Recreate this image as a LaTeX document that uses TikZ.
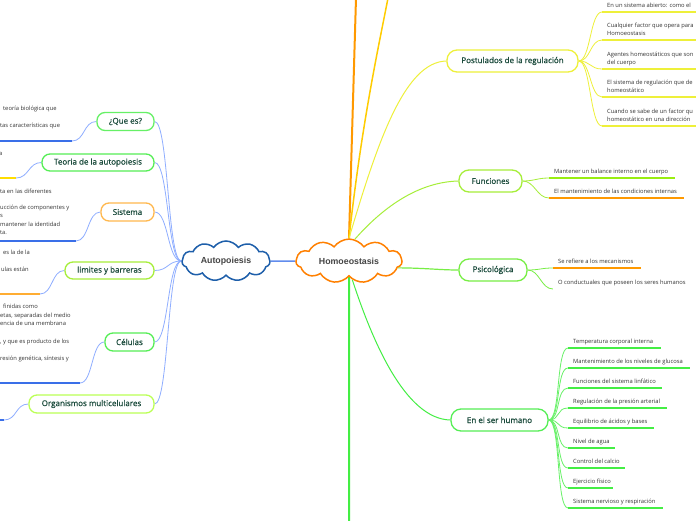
\documentclass[tikz,border=0pt]{standalone}
\usepackage{fontspec}
\setmainfont{Open Sans}
\newfontfamily\kf{Open Sans}
\newfontfamily\kfb[FakeBold=0.8]{Open Sans}
\newfontfamily\lib{Liberation Sans}
\usetikzlibrary{shapes.symbols}
\definecolor{autoblue}{HTML}{1E5FAA}
\definecolor{homoorange}{HTML}{FF8000}
\definecolor{linkblue}{HTML}{8FAEFF}
\definecolor{ulblue}{HTML}{3A6FE8}
\definecolor{nodetxt}{HTML}{1B4B3C}
\definecolor{kidtxt}{HTML}{333333}
\definecolor{cloudtxt}{HTML}{444444}
\definecolor{bgreen}{HTML}{66F066}
\definecolor{mgreen}{HTML}{55EE55}
\definecolor{lorange}{HTML}{FFB84D}
\definecolor{ygreen}{HTML}{A6EE3A}
\definecolor{lgreen}{HTML}{BBFF55}
\definecolor{pyellow}{HTML}{EEF03A}
\definecolor{psigreen}{HTML}{77EE44}
\definecolor{uyellow}{HTML}{FFDD00}
\definecolor{uorange}{HTML}{FF9900}
\definecolor{ugreen}{HTML}{99EE11}
\definecolor{brgreen}{HTML}{44EE44}
\definecolor{ylink}{HTML}{FFCC00}
\pgfdeclarelayer{back}
\pgfdeclarelayer{bg}
\pgfsetlayers{back,bg,main}
\newcommand\rkid[6]{%
  \coordinate (#1a) at (#2,#4); \coordinate (#1b) at (#3,#4);
  \draw[ul,#5] (#1a) -- (#1b);
  \node[kt,anchor=base west,xshift=5pt,yshift=4.5pt] (#1) at (#1a) {#6};}
\newcommand\rkidd[7]{%
  \coordinate (#1a) at (#2,#4); \coordinate (#1b) at (#3,#4);
  \draw[ul,#5] (#1a) -- (#1b);
  \node[kt,anchor=base west,xshift=5pt,yshift=12.5pt] (#1t) at (#1a) {#6};
  \node[kt,anchor=base west,xshift=5pt,yshift=4.5pt] (#1) at (#1a) {#7};}
\begin{document}
\begin{tikzpicture}[x=1pt,y=-1pt,
  topic/.style={draw, line width=1.3pt, rounded corners=8pt, fill=white, text=nodetxt, inner sep=0pt, font=\kfb\fontsize{8}{9}\selectfont},
  cloudnode/.style={cloud, cloud puffs=11, cloud puff arc=110, aspect=2.6, draw, line width=1.5pt, fill=white, inner sep=0pt, text=cloudtxt, font=\lib\bfseries\fontsize{8.8}{10}\selectfont},
  conn/.style={line width=0.8pt},
  ul/.style={line width=2pt},
  kt/.style={inner sep=0pt, text=kidtxt, font=\kf\fontsize{5.8}{6.5}\selectfont}]
\useasboundingbox (0,0) rectangle (696,520);
\begin{pgfonlayer}{back}
\fill[white] (0,0) rectangle (696,520);
\end{pgfonlayer}

% central clouds
\node[cloudnode, draw=autoblue, minimum width=88pt, minimum height=40pt] (auto) at (226,261) {Autopoiesis};
\node[cloudnode, draw=homoorange, minimum width=106pt, minimum height=42pt] (homo) at (349,261) {Homoeostasis};

% left topics
\node[topic, draw=bgreen, minimum width=57pt, minimum height=18pt] (q) at (125.5,121.5) {¿Que es?};
\node[topic, draw=mgreen, minimum width=112pt, minimum height=17pt] (teo) at (98,162.5) {Teoria de la autopoiesis};
\node[topic, draw=lorange, minimum width=53pt, minimum height=18pt] (sis) at (127.5,212) {Sistema};
\node[topic, draw=ygreen, minimum width=89pt, minimum height=17pt] (lim) at (109.5,270.5) {limites y barreras};
\node[topic, draw=mgreen, minimum width=49pt, minimum height=18pt] (cel) at (129.5,342) {Células};
\node[topic, draw=lgreen, minimum width=125pt, minimum height=18pt] (org) at (91.5,404) {Organismos multicelulares};

% right topics
\node[topic, draw=pyellow, minimum width=131pt, minimum height=22pt, rounded corners=10pt] (post) at (512.5,61) {Postulados de la regulación};
\node[topic, draw=ygreen, minimum width=63pt, minimum height=22pt, rounded corners=10pt] (fun) at (490.5,181) {Funciones};
\node[topic, draw=psigreen, minimum width=68pt, minimum height=22pt, rounded corners=10pt] (psi) at (493,270) {Psicológica};
\node[topic, draw=mgreen, minimum width=97pt, minimum height=22pt, rounded corners=10pt] (hum) at (499.5,420) {En el ser humano};

% left children (text cut at the left edge)
\node[kt,anchor=base west] (q1) at (3,110) {teoría biológica que};
\node[kt,anchor=base west] (q2) at (0,127) {tas características que};
\coordinate (qa) at (72,141); \coordinate (qb) at (-2,141);
\draw[ul,ulblue] (qb) -- (qa);

\node[kt,anchor=base west] (t1) at (-1,155) {a};
\coordinate (ta) at (16,178); \coordinate (tb) at (-2,178);
\draw[ul,uyellow] (tb) -- (ta);

\node[kt,anchor=base west] (s1) at (0,193) {ta en las diferentes};
\node[kt,anchor=base west] (s2) at (0,209) {ucción de componentes y};
\node[kt,anchor=base west] (s3) at (0,217) {s};
\node[kt,anchor=base west] (s4) at (0,226) {mantener la identidad};
\node[kt,anchor=base west] (s5) at (0,234) {ta.};
\coordinate (sa) at (76,241); \coordinate (sb) at (-2,241);
\draw[ul,ulblue] (sb) -- (sa);

\node[kt,anchor=base west] (l1) at (3,254) {es la de la};
\node[kt,anchor=base west] (l2) at (1,271) {ulas están};
\coordinate (la) at (40,294); \coordinate (lb) at (-2,294);
\draw[ul,uorange!80] (lb) -- (la);

\node[kt,anchor=base west] (c1) at (3,308) {finidas como};
\node[kt,anchor=base west] (c2) at (0,317) {etas, separadas del medio};
\node[kt,anchor=base west] (c3) at (0,325) {encia de una membrana};
\node[kt,anchor=base west] (c4) at (0,343) {, y que es producto de los};
\node[kt,anchor=base west] (c5) at (0,360) {resión genética, síntesis y};
\coordinate (ca) at (80,383); \coordinate (cb) at (-2,383);
\draw[ul,ulblue] (cb) -- (ca);

\coordinate (oa) at (4,420); \coordinate (ob) at (-2,420);
\draw[ul,ulblue] (ob) -- (oa);

% right children
\rkid{p1}{602}{700}{12}{pyellow}{En un sistema abierto: como el}
\rkidd{p2}{602}{700}{40}{pyellow}{Cualquier factor que opera para}{Homoeostasis}
\rkidd{p3}{602}{700}{69}{pyellow}{Agentes homeostáticos que son}{del cuerpo}
\rkidd{p4}{602}{700}{97}{pyellow}{El sistema de regulación que de}{homeostático}
\rkidd{p5}{602}{700}{126}{pyellow}{Cuando se sabe de un factor qu}{homeostático en una dirección}

\rkid{f1}{549}{675}{178}{ugreen}{Mantener un balance interno en el cuerpo}
\rkid{f2}{549}{684}{198}{uorange}{El mantenimiento de las condiciones internas}

\rkid{s1r}{553}{641}{268}{uorange}{Se refiere a los mecanismos}
\rkid{s2r}{553}{690}{289}{white}{O conductuales que poseen los seres humanos}

\rkid{h1}{568}{661}{348}{brgreen}{Temperatura corporal interna}
\rkid{h2}{568}{690}{368}{brgreen}{Mantenimiento de los niveles de glucosa}
\rkid{h3}{568}{662}{388}{brgreen}{Funciones del sistema linfático}
\rkid{h4}{568}{667}{408}{brgreen}{Regulación de la presión arterial}
\rkid{h5}{568}{654}{428}{brgreen}{Equilibrio de ácidos y bases}
\rkid{h6}{568}{615}{448}{brgreen}{Nivel de agua}
\rkid{h7}{568}{625}{468}{brgreen}{Control del calcio}
\rkid{h8}{568}{613}{488}{brgreen}{Ejercicio físico}
\rkid{h9}{568}{663}{508}{brgreen}{Sistema nervioso y respiración}

% free ends of branches leaving the picture
\coordinate (topA) at (356,-2);
\coordinate (topB) at (388,-2);
\coordinate (botA) at (349,522);

\begin{pgfonlayer}{bg}
% central link
\draw[line width=1.5pt, color=ulblue!80] (auto.east) -- (homo.west);
% left links
\foreach \n in {q,teo,sis,lim,cel,org}
  \draw[conn,linkblue] (\n.east) .. controls +(14,0) and +(-14,0) .. (auto.west);
\draw[conn,linkblue] (q.west) .. controls +(-13,0) and +(13,0) .. (qa);
\draw[conn,linkblue] (teo.west) .. controls +(-13,0) and +(13,0) .. (ta);
\draw[conn,linkblue] (sis.west) .. controls +(-13,0) and +(13,0) .. (sa);
\draw[conn,linkblue] (lim.west) .. controls +(-13,0) and +(13,0) .. (la);
\draw[conn,linkblue] (cel.west) .. controls +(-13,0) and +(13,0) .. (ca);
\draw[conn,linkblue] (org.west) .. controls +(-13,0) and +(13,0) .. (oa);
% homo links
\draw[line width=2pt, uorange] (homo.north) -- (topA);
\draw[line width=1.5pt, ylink] (homo.north) .. controls (362,120) and (380,40) .. (topB);
\draw[line width=1pt, pyellow] (homo.north) .. controls (378,140) and (405,62) .. (post.west);
\draw[line width=1pt, ygreen] (homo.75) .. controls (385,205) and (420,182) .. (fun.west);
\draw[line width=1.2pt, psigreen] (homo.-8) .. controls (425,268) and (440,270) .. (psi.west);
\draw[line width=2pt, brgreen] (homo.south) -- (botA);
\draw[line width=1pt, brgreen] (homo.-80) .. controls (372,340) and (405,419) .. (hum.west);
% right children links
\foreach \k in {p1,p2,p3,p4,p5}
  \draw[conn,pyellow] (post.east) .. controls +(12,0) and +(-12,0) .. (\k a);
\draw[conn,ygreen] (fun.east) .. controls +(12,0) and +(-12,0) .. (f1a);
\draw[conn,ygreen] (fun.east) .. controls +(12,0) and +(-12,0) .. (f2a);
\draw[conn,psigreen] (psi.east) .. controls +(12,0) and +(-12,0) .. (s1ra);
\draw[conn,psigreen] (psi.east) .. controls +(12,0) and +(-12,0) .. (s2ra);
\foreach \k in {h1,h2,h3,h4,h5,h6,h7,h8,h9}
  \draw[conn,brgreen!80] (hum.east) .. controls +(12,0) and +(-12,0) .. (\k a);
\end{pgfonlayer}
\end{tikzpicture}
\end{document}
